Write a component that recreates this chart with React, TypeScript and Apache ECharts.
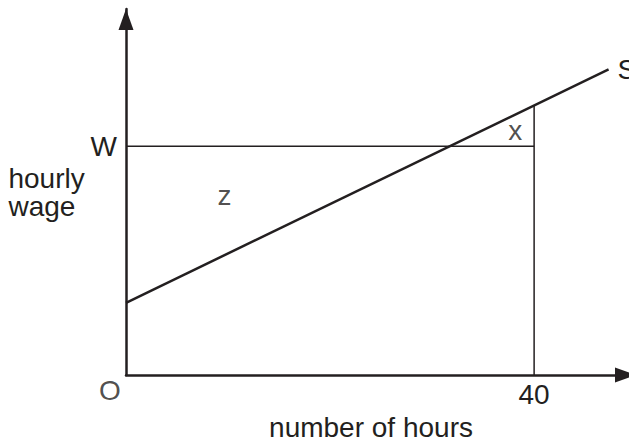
import React, { useEffect, useRef } from "react";
import * as echarts from "echarts";

// ---- data (hours on x, hourly wage on y; arbitrary wage units) ----
const supplyHours = [0, 47.3];
const supplyWage = [3.16, 13.36];
const wageLevel = 10; // W
const hoursLevel = 40; // 40 hours
const supplyAtForty = 11.79; // where the vertical at 40 meets S
const xTickLabels: Record<number, string> = { 40: "40" };
const yTickLabels: Record<number, string> = { 10: "W" };
const annotations = [
  { name: "z", hours: 9.66, wage: 7.83 },
  { name: "x", hours: 38.14, wage: 10.69 },
];
const xMax = 49.3;
const yMax = 16;

const INK = "#231f20";
const FONT = "Liberation Sans, Arial, Helvetica, sans-serif";
const FS = 28;

export default function App() {
  const ref = useRef<HTMLDivElement>(null);
  useEffect(() => {
    if (!ref.current) return;
    const chart = echarts.init(ref.current, undefined, { renderer: "svg" });
    const axisLineBase = {
      show: true,
      lineStyle: { color: INK, width: 2.5 },
      symbol: ["none", "triangle"],
      symbolSize: [15, 21],
    };
    chart.setOption({
      animation: false,
      backgroundColor: "#ffffff",
      textStyle: { fontFamily: FONT, color: INK },
      grid: { left: 126, top: 9, right: 0, bottom: 57, containLabel: false },
      xAxis: {
        type: "value",
        min: 0,
        max: xMax,
        interval: 40,
        axisLine: { ...axisLineBase, symbolOffset: [0, -3.5] },
        axisTick: { show: false },
        splitLine: { show: false },
        axisLabel: {
          show: true,
          margin: 5,
          fontSize: FS,
          fontFamily: FONT,
          color: INK,
          showMaxLabel: false,
          formatter: (v: number) => xTickLabels[v] ?? "",
        },
        name: "number of hours",
        nameLocation: "middle",
        nameGap: 26,
        nameTextStyle: {
          fontSize: FS,
          fontFamily: FONT,
          color: INK,
          padding: [0, 13, 0, 0],
        },
      },
      yAxis: {
        type: "value",
        min: 0,
        max: yMax,
        interval: 10,
        axisLine: { ...axisLineBase, symbolOffset: [0, -10.5] },
        axisTick: { show: false },
        splitLine: { show: false },
        axisLabel: {
          show: true,
          margin: 9,
          fontSize: FS,
          fontFamily: FONT,
          color: INK,
          showMaxLabel: false,
          padding: [0, 0, 6, 0],
          formatter: (v: number) => yTickLabels[v] ?? "",
        },
        name: "hourly\nwage",
        nameLocation: "middle",
        nameRotate: 0,
        nameGap: 110,
        nameTextStyle: {
          fontSize: FS,
          fontFamily: FONT,
          color: INK,
          align: "left",
          verticalAlign: "middle",
          lineHeight: 28,
          padding: [24, 0, 0, 0],
        },
      },
      series: [
        {
          type: "line",
          name: "S",
          data: supplyHours.map((h, i) => [h, supplyWage[i]]),
          symbol: "none",
          lineStyle: { color: INK, width: 2.5 },
          endLabel: {
            show: true,
            formatter: "S",
            distance: 9,
            fontSize: FS,
            fontFamily: FONT,
            color: INK,
          },
          silent: true,
        },
        {
          type: "line",
          data: [
            [0, wageLevel],
            [hoursLevel, wageLevel],
          ],
          symbol: "none",
          lineStyle: { color: INK, width: 1.5 },
          silent: true,
        },
        {
          type: "line",
          data: [
            [hoursLevel, 0],
            [hoursLevel, supplyAtForty],
          ],
          symbol: "none",
          lineStyle: { color: INK, width: 1.5 },
          silent: true,
        },
        {
          type: "scatter",
          symbolSize: 0,
          silent: true,
          clip: false,
          data: [
            ...annotations.map((a) => ({
              value: [a.hours, a.wage],
              label: { formatter: a.name },
            })),
            { value: [0, 0], label: { formatter: "O", offset: [-16, 15] } },
          ],
          label: {
            show: true,
            position: "inside",
            align: "center",
            verticalAlign: "middle",
            fontSize: FS,
            fontFamily: FONT,
            color: INK,
          },
        },
      ],
    });
    return () => chart.dispose();
  }, []);
  return (
    <div
      ref={ref}
      style={{ position: "absolute", left: 0, top: 0, width: 629, height: 446, background: "#fff" }}
    />
  );
}
